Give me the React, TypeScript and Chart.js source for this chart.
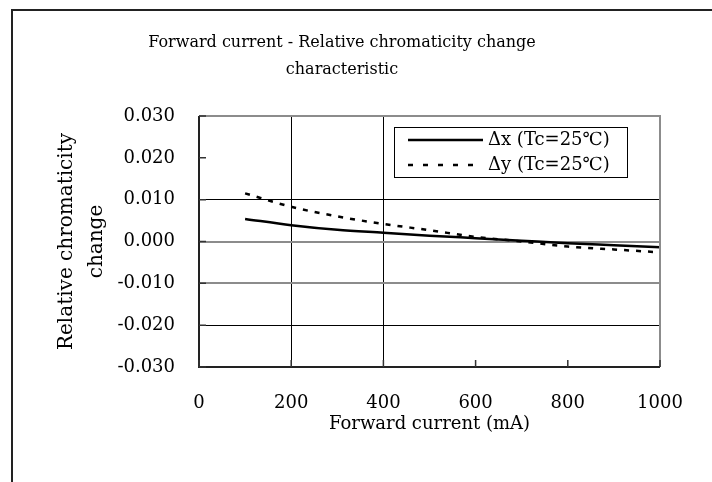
import React, { useEffect, useRef } from "react";
import { Chart, registerables } from "chart.js";

Chart.register(...registerables);

// ---- data ----
const currents = [100, 200, 300, 400, 500, 600, 700, 800, 900, 1000];
const deltaX = [0.0054, 0.0039, 0.0028, 0.0021, 0.0014, 0.0008, 0.0002, -0.0004, -0.0009, -0.0014];
const deltaY = [0.0115, 0.0083, 0.006, 0.0042, 0.0027, 0.0011, 0.0, -0.0012, -0.0019, -0.0026];
const xTickValues = [0, 200, 400, 600, 800, 1000];
const yTickValues = [-0.03, -0.02, -0.01, 0, 0.01, 0.02, 0.03];
const titleLines = ["Forward current - Relative chromaticity change", "characteristic"];
const xTitle = "Forward current (mA)";
const yTitleLines = ["Relative chromaticity", "change"];
const seriesLabels = ["\u0394x (Tc=25\u2103)", "\u0394y (Tc=25\u2103)"];

// gridlines visible in the reference
const xBlackGrid = [200, 400];
const yBlackGrid = [0.01, -0.02];
const yGrayGrid = [0, -0.01];

const FONT = "'DejaVu Serif', serif";
const near = (a: number, list: number[]) => list.some((b) => Math.abs(a - b) < 1e-9);

const framePlugin = {
  id: "frameAndLegend",
  afterDraw(chart: any) {
    const { ctx, chartArea, scales } = chart;
    const { left, right, top, bottom } = chartArea;
    ctx.save();
    // top & right border (gray)
    ctx.strokeStyle = "#8c8c8c";
    ctx.lineWidth = 2;
    ctx.beginPath();
    ctx.moveTo(left, top);
    ctx.lineTo(right, top);
    ctx.lineTo(right, bottom);
    ctx.stroke();
    // left & bottom axis (dark)
    ctx.strokeStyle = "#222";
    ctx.beginPath();
    ctx.moveTo(left, top);
    ctx.lineTo(left, bottom);
    ctx.lineTo(right, bottom);
    ctx.stroke();
    // inward tick marks
    ctx.lineWidth = 1.5;
    ctx.strokeStyle = "#333";
    ctx.beginPath();
    xTickValues.forEach((v) => {
      const px = scales.x.getPixelForValue(v);
      ctx.moveTo(px, bottom);
      ctx.lineTo(px, bottom - 7);
    });
    yTickValues.forEach((v) => {
      const py = scales.y.getPixelForValue(v);
      ctx.moveTo(left, py);
      ctx.lineTo(left + 7, py);
    });
    ctx.stroke();

    // legend box inside plot area
    const bx = right - 266;
    const by = top + 11;
    const bw = 233;
    const bh = 50;
    ctx.fillStyle = "#fff";
    ctx.fillRect(bx, by, bw, bh);
    ctx.strokeStyle = "#000";
    ctx.lineWidth = 1;
    ctx.strokeRect(bx + 0.5, by + 0.5, bw, bh);
    chart.data.datasets.forEach((ds: any, i: number) => {
      const cy = by + 13 + i * 25;
      ctx.beginPath();
      ctx.lineWidth = 2.5;
      ctx.strokeStyle = "#000";
      ctx.setLineDash(ds.borderDash && ds.borderDash.length ? [5, 10] : []);
      ctx.moveTo(bx + 14, cy);
      ctx.lineTo(bx + 89, cy);
      ctx.stroke();
      ctx.setLineDash([]);
      ctx.fillStyle = "#000";
      ctx.font = `18px ${FONT}`;
      ctx.textAlign = "left";
      ctx.textBaseline = "middle";
      ctx.fillText(ds.label, bx + 94, cy);
    });
    ctx.restore();
  },
};

export default function App() {
  const canvasRef = useRef<HTMLCanvasElement | null>(null);

  useEffect(() => {
    const canvas = canvasRef.current;
    if (!canvas) return;
    Chart.defaults.font.family = FONT;
    Chart.defaults.color = "#000";

    const chart = new Chart(canvas, {
      type: "line",
      data: {
        datasets: [
          {
            label: seriesLabels[0],
            data: currents.map((c, i) => ({ x: c, y: deltaX[i] })),
            borderColor: "#000",
            borderWidth: 2.5,
            pointRadius: 0,
            cubicInterpolationMode: "monotone",
            fill: false,
          },
          {
            label: seriesLabels[1],
            data: currents.map((c, i) => ({ x: c, y: deltaY[i] })),
            borderColor: "#000",
            borderWidth: 2.5,
            borderDash: [5, 7],
            pointRadius: 0,
            cubicInterpolationMode: "monotone",
            fill: false,
          },
        ],
      },
      options: {
        animation: false,
        responsive: false,
        devicePixelRatio: 1,
        layout: { padding: { left: 24, right: 52, top: 0, bottom: 0 } },
        plugins: {
          legend: { display: false },
          tooltip: { enabled: false },
          title: {
            display: true,
            text: titleLines,
            color: "#000",
            font: { size: 16, family: FONT, weight: "normal", lineHeight: 1.7 },
            padding: { top: 29.4, bottom: 32.2 },
          },
        },
        scales: {
          x: {
            type: "linear",
            min: 0,
            max: 1000,
            border: { display: false },
            grid: {
              drawTicks: false,
              color: (c: any) => (near(c.tick.value, xBlackGrid) ? "#000" : "rgba(0,0,0,0)"),
              lineWidth: 1,
            },
            ticks: {
              stepSize: 200,
              padding: 26,
              color: "#000",
              font: { size: 18, family: FONT },
              maxRotation: 0,
              callback: (v: any) => String(v),
            },
            title: {
              display: true,
              text: xTitle,
              color: "#000",
              font: { size: 18, family: FONT, lineHeight: 1.5 },
              padding: { top: 0, bottom: 44.5 },
            },
            afterFit: (s: any) => {
              s.height = 115;
            },
          },
          y: {
            type: "linear",
            min: -0.03,
            max: 0.03,
            border: { display: false },
            grid: {
              drawTicks: false,
              color: (c: any) =>
                near(c.tick.value, yBlackGrid)
                  ? "#000"
                  : near(c.tick.value, yGrayGrid)
                  ? "#8c8c8c"
                  : "rgba(0,0,0,0)",
              lineWidth: (c: any) => (near(c.tick.value, yGrayGrid) ? 2 : 1),
            },
            ticks: {
              stepSize: 0.01,
              padding: 24,
              color: "#000",
              font: { size: 18, family: FONT },
              callback: (v: any) => Number(v).toFixed(3),
            },
            title: {
              display: true,
              text: yTitleLines,
              color: "#000",
              font: { size: 20, family: FONT, lineHeight: 1.5 },
              padding: { top: 28, bottom: 0 },
            },
            afterFit: (s: any) => {
              s.width = 175;
            },
          },
        },
      },
      plugins: [framePlugin],
    } as any);

    return () => chart.destroy();
  }, []);

  return (
    <div
      style={{
        position: "fixed",
        left: 0,
        top: 0,
        width: 712,
        height: 482,
        overflow: "hidden",
        background: "#fff",
      }}
    >
      <div
        style={{
          position: "absolute",
          left: 11,
          top: 9,
          width: 760,
          height: 520,
          borderLeft: "2px solid #222",
          borderTop: "2px solid #222",
        }}
      />
      <canvas
        ref={canvasRef}
        width={712}
        height={482}
        style={{ position: "absolute", left: 0, top: 0, width: 712, height: 482 }}
      />
    </div>
  );
}
